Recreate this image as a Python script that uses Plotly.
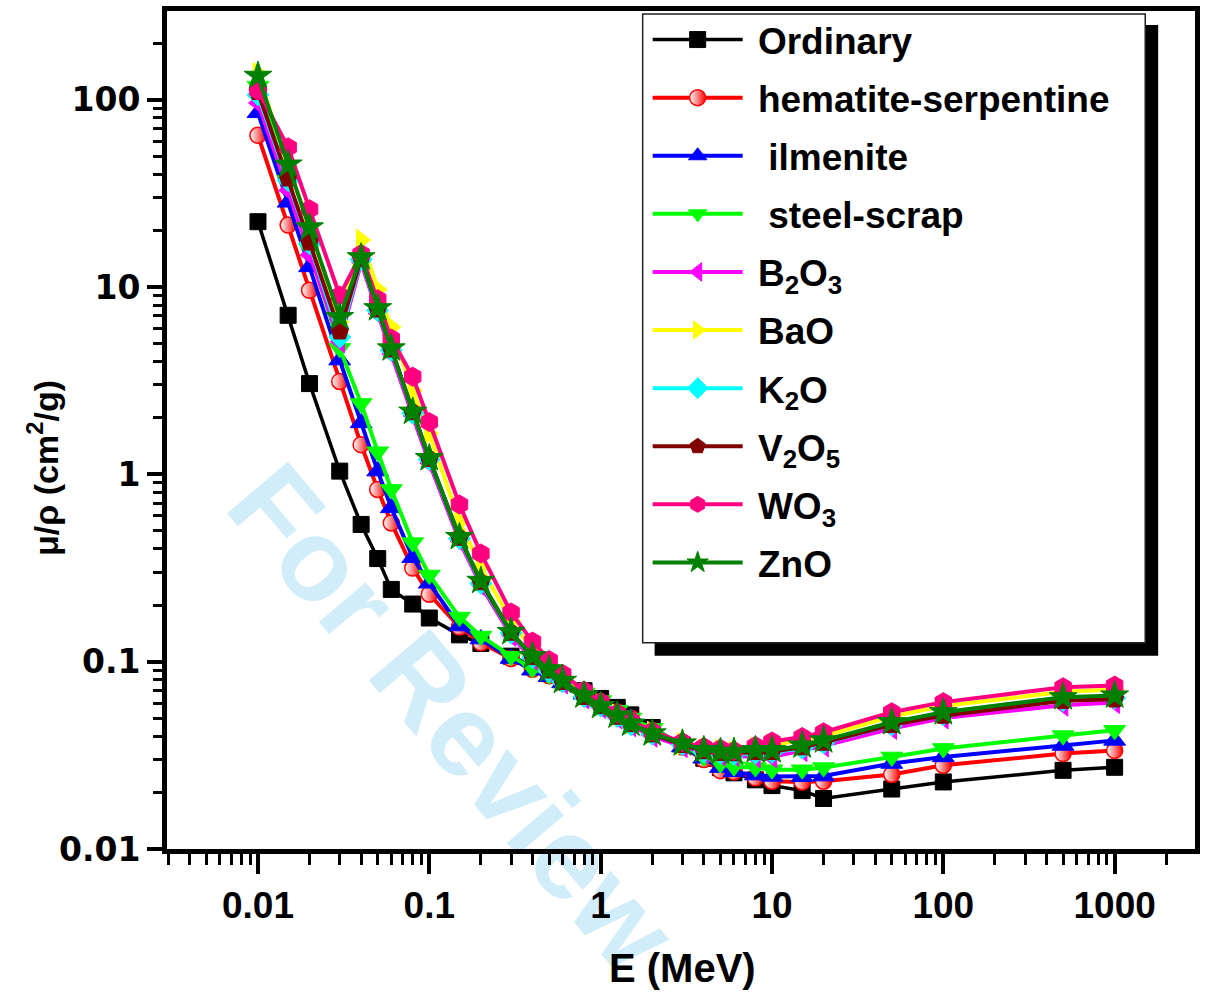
import plotly.graph_objects as go

# Photon energy grid (MeV)
energy = [0.01, 0.015, 0.02, 0.03, 0.04, 0.05, 0.06, 0.08, 0.1, 0.15, 0.2, 0.3,
          0.4, 0.5, 0.6, 0.8, 1, 1.25, 1.5, 2, 3, 4, 5, 6, 8, 10, 15, 20,
          50, 100, 500, 1000]

# Mass attenuation coefficients (cm^2/g)
ordinary = [22.3, 7.06, 3.05, 1.04, 0.54, 0.355, 0.243, 0.203, 0.171, 0.139, 0.125, 0.107,
            0.095, 0.087, 0.080, 0.070, 0.0636, 0.057, 0.052, 0.0445, 0.0357, 0.0305, 0.0272, 0.0255,
            0.0234, 0.0218, 0.0205, 0.0186, 0.0209, 0.0228, 0.0263, 0.0273]
hematite = [64.5, 21.4, 9.6, 3.13, 1.44, 0.83, 0.55, 0.316, 0.229, 0.153, 0.126, 0.104,
            0.091, 0.084, 0.077, 0.067, 0.061, 0.054, 0.050, 0.043, 0.0350, 0.0300, 0.0262, 0.0258,
            0.0240, 0.0230, 0.0228, 0.0230, 0.0250, 0.0280, 0.0323, 0.0336]
ilmenite = [85, 28.3, 12.8, 4.07, 1.88, 1.04, 0.662, 0.359, 0.262, 0.155, 0.132, 0.104,
            0.090, 0.083, 0.077, 0.067, 0.061, 0.054, 0.050, 0.043, 0.035, 0.0305, 0.0272, 0.0258,
            0.0248, 0.0244, 0.0243, 0.0245, 0.0286, 0.031, 0.0357, 0.038]
steel_scrap = [118, 37, 16, 4.7, 2.39, 1.32, 0.83, 0.432, 0.29, 0.173, 0.137, 0.107,
               0.092, 0.085, 0.078, 0.068, 0.062, 0.055, 0.050, 0.044, 0.0358, 0.031, 0.0285, 0.0275,
               0.0272, 0.0265, 0.0265, 0.0272, 0.031, 0.0344, 0.0403, 0.043]
b2o3 = [96, 32.8, 14.8, 5.1, 13.5, 7.2, 4.4, 2.05, 1.15, 0.44, 0.255, 0.138,
        0.103, 0.087, 0.077, 0.064, 0.057, 0.050, 0.0455, 0.040, 0.0352, 0.0328, 0.0318, 0.0315,
        0.031, 0.031, 0.0335, 0.0355, 0.044, 0.050, 0.0585, 0.0605]
bao = [138, 44, 21, 6.5, 17.8, 9.7, 6.1, 2.8, 1.65, 0.56, 0.32, 0.165,
       0.117, 0.096, 0.082, 0.067, 0.059, 0.052, 0.047, 0.042, 0.0365, 0.034, 0.0335, 0.033,
       0.0345, 0.036, 0.038, 0.040, 0.051, 0.058, 0.069, 0.071]
k2o = [106, 37, 17, 5.4, 14, 7.5, 4.6, 2.12, 1.2, 0.455, 0.262, 0.142,
       0.105, 0.089, 0.078, 0.065, 0.058, 0.051, 0.046, 0.041, 0.036, 0.033, 0.0325, 0.032,
       0.0325, 0.0328, 0.0345, 0.0368, 0.046, 0.052, 0.062, 0.064]
v2o5 = [110, 38, 17.3, 5.8, 14.2, 7.6, 4.65, 2.15, 1.21, 0.46, 0.266, 0.143,
        0.106, 0.090, 0.078, 0.065, 0.058, 0.051, 0.0465, 0.041, 0.036, 0.0333, 0.0326, 0.0325,
        0.033, 0.033, 0.035, 0.037, 0.046, 0.0515, 0.0618, 0.063]
wo3 = [112, 55.6, 26, 9.0, 15.0, 8.6, 5.3, 3.32, 1.9, 0.69, 0.378, 0.183,
       0.128, 0.102, 0.086, 0.070, 0.061, 0.053, 0.0485, 0.0425, 0.0372, 0.035, 0.0343, 0.0335,
       0.0355, 0.0375, 0.0396, 0.042, 0.0537, 0.0608, 0.073, 0.0745]
zno = [134, 45, 20.8, 6.9, 14.4, 7.7, 4.7, 2.16, 1.22, 0.463, 0.27, 0.144,
       0.107, 0.091, 0.079, 0.066, 0.058, 0.0516, 0.0467, 0.0414, 0.0366, 0.0337, 0.033, 0.033,
       0.0337, 0.0337, 0.0357, 0.038, 0.0475, 0.0537, 0.0646, 0.066]

NB = "\u00a0"
series_names = [NB + "Ordinary", NB + "hematite-serpentine", NB * 2 + "ilmenite",
                NB * 2 + "steel-scrap", NB + "B<sub>2</sub>O<sub>3</sub>", NB + "BaO",
                NB + "K<sub>2</sub>O", NB + "V<sub>2</sub>O<sub>5</sub>",
                NB + "WO<sub>3</sub>", NB + "ZnO"]
series_values = [ordinary, hematite, ilmenite, steel_scrap, b2o3, bao, k2o, v2o5, wo3, zno]
series_colors = ["#000000", "#FF0000", "#0000FF", "#00FF00", "#FF00FF",
                 "#FFFF00", "#00FFFF", "#800000", "#FF0080", "#008000"]
series_symbols = ["square", "circle", "triangle-up", "triangle-down", "triangle-left",
                  "triangle-right", "diamond", "pentagon", "hexagon", "star"]
symbol_sizes = [16, 16, 19, 19, 19, 19, 17, 19, 19, 21]

x_tick_vals = [0.01, 0.1, 1, 10, 100, 1000]
x_tick_text = ["0.01", "0.1", "1", "10", "100", "1000"]
y_tick_vals = [0.01, 0.1, 1, 10, 100]
y_tick_text = ["0.01", "0.1", "1", "10", "100"]

NARROW = "Liberation Sans Narrow, Arial Narrow, Liberation Sans, Arial, sans-serif"
WIDE = "DejaVu Sans, Verdana, sans-serif"
LEGEND_FONT = "Liberation Sans, Arial, sans-serif"

W, H = 1206, 993
ML, MR, MT, MB = 167, 6, 8, 144
PW, PH = W - ML - MR, H - MT - MB


def px_x(p):
    return (p - ML) / PW


def px_y(p):
    return (H - MB - p) / PH


fig = go.Figure()

for name, vals, col, sym, sz in zip(series_names, series_values, series_colors,
                                    series_symbols, symbol_sizes):
    marker = dict(symbol=sym, size=sz, color=col, line=dict(color=col, width=1))
    if sym == "circle":
        marker = dict(symbol=sym, size=sz, color="white",
                      gradient=dict(type="horizontal", color=col),
                      line=dict(color=col, width=1.5))
    fig.add_trace(go.Scatter(
        x=energy, y=vals, name=name, mode="lines+markers",
        line=dict(color=col, width=3.5 if col == "#000000" else 4),
        marker=marker, legendgroup=name,
    ))

minor_x = [m * 10.0 ** k for k in range(-3, 4) for m in range(2, 10)]
minor_y = [m * 10.0 ** k for k in range(-2, 3) for m in range(2, 10)]

axis_common = dict(
    showline=True, linewidth=5, linecolor="black", mirror=True,
    ticks="outside", tickwidth=4, tickcolor="black",
    showgrid=False, zeroline=False, tickmode="array",
)

fig.update_xaxes(
    type="log", range=[-2.531, 3.469], tickvals=x_tick_vals, ticktext=x_tick_text,
    ticklen=20, tickfont=dict(family=NARROW, size=37, color="black", weight="bold"),
    minor=dict(tickmode="array", tickvals=minor_x, ticks="outside", ticklen=11,
               tickwidth=3, tickcolor="black", showgrid=False),
    **axis_common,
)
fig.update_yaxes(
    type="log", range=[-2.0, 2.473], tickvals=y_tick_vals, ticktext=y_tick_text,
    ticklen=15, tickfont=dict(family=WIDE, size=33, color="black", weight="bold"),
    minor=dict(tickmode="array", tickvals=minor_y, ticks="outside", ticklen=9,
               tickwidth=3, tickcolor="black", showgrid=False),
    **axis_common,
)

shapes = [
    # faint diagonal watermark behind the data
    dict(type="line", xref="paper", yref="paper",
         x0=px_x(250), y0=px_y(460), x1=px_x(675), y1=px_y(960),
         line=dict(color="rgba(0,0,0,0)", width=0), layer="below",
         label=dict(text="For Review", textposition="middle", yanchor="middle",
                    font=dict(family="Liberation Sans, Arial, sans-serif", size=116,
                              color="#D2EDFA", weight="bold"))),
    # legend drop shadow and frame
    dict(type="rect", xref="paper", yref="paper",
         x0=px_x(657), x1=px_x(1163), y0=px_y(655), y1=px_y(22),
         fillcolor="black", line=dict(width=0), layer="above"),
    dict(type="rect", xref="paper", yref="paper",
         x0=px_x(645), x1=px_x(1150), y0=px_y(642), y1=px_y(11),
         fillcolor="white", line=dict(color="#222222", width=1.5), layer="above"),
]

annotations = [
    dict(text="E (MeV)", xref="paper", yref="paper", x=px_x(685), y=px_y(968),
         xanchor="center", yanchor="middle", showarrow=False,
         font=dict(family=NARROW, size=40, color="black", weight="bold")),
    dict(text="\u03bc/\u03c1 (cm<sup>2</sup>/g)", xref="paper", yref="paper",
         x=px_x(42), y=px_y(467), xanchor="center", yanchor="middle",
         textangle=-90, showarrow=False,
         font=dict(family=NARROW, size=34, color="black", weight="bold")),
]

fig.update_layout(
    width=W, height=H,
    margin=dict(l=ML, r=MR, t=MT, b=MB, pad=0),
    paper_bgcolor="white", plot_bgcolor="rgba(0,0,0,0)",
    shapes=shapes, annotations=annotations,
    showlegend=True,
    legend=dict(
        x=px_x(650), y=px_y(6), xanchor="left", yanchor="top",
        bgcolor="rgba(0,0,0,0)", borderwidth=0, maxheight=980,
        font=dict(family=LEGEND_FONT, size=37, color="black", weight="bold"),
        itemwidth=90, tracegroupgap=7, traceorder="grouped",
    ),
)

fig.write_html("out.html")
